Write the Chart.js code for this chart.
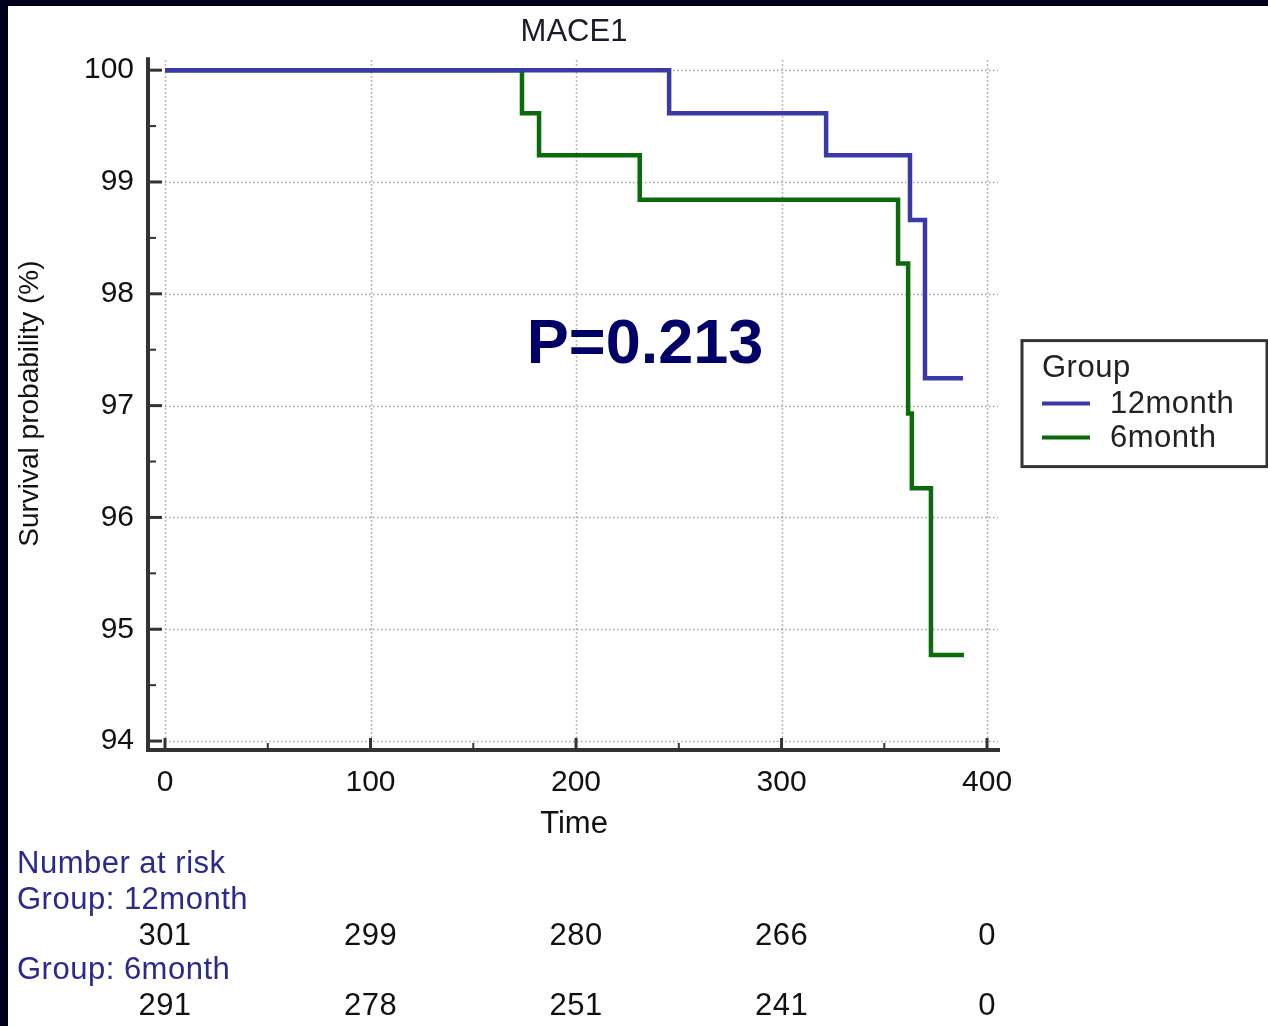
<!DOCTYPE html>
<html>
<head>
<meta charset="utf-8">
<script src="https://cdn.jsdelivr.net/npm/chart.js@4.4.1/dist/chart.umd.min.js"></script>
<style>
  html,body{margin:0;padding:0;background:#fff;}
  #wrap{position:absolute;left:0;top:0;width:1268px;height:1026px;box-sizing:border-box;
        border-top:6px solid #00001e;border-left:8px solid #00001e;background:#fff;}
  canvas{display:block;}
</style>
</head>
<body>
<div id="wrap"><canvas id="km" width="1260" height="1020"></canvas></div>
<script>
// Kaplan-Meier steps (time, survival % after the step)
const times12 = [0, 245.3, 321.7, 362.5, 369.8, 388.3];
const surv12  = [100, 99.615, 99.24, 98.66, 97.245, 97.245];
const times6  = [0, 173.7, 182, 231, 356.7, 361.6, 363.4, 372.7, 388.8];
const surv6   = [100, 99.615, 99.24, 98.84, 98.27, 96.93, 96.26, 94.77, 94.77];

const groups = ['12month', '6month'];
const xTicks = [0, 100, 200, 300, 400];
const xMinor = [50, 150, 250, 350];
const yTicks = [94, 95, 96, 97, 98, 99, 100];
const yMinor = [94.5, 95.5, 96.5, 97.5, 98.5, 99.5];

const riskTimes = [0, 100, 200, 300, 400];
const risk12 = [301, 299, 280, 266, 0];
const risk6  = [291, 278, 251, 241, 0];

const pText = 'P=0.213';
const pAt = {x: 233.6, y: 97.54};

const FONT = '"Liberation Sans", Arial, sans-serif';
const cBlue = '#3a3aa6';
const cGreen = '#0b6b0b';
const cAxis = '#333333';

const pts = (t, s) => t.map((v, i) => ({x: v, y: s[i]}));

const axesPlugin = {
  id: 'axes',
  beforeDatasetsDraw(chart){
    const {ctx, chartArea: a, scales: {x, y}} = chart;
    ctx.save();
    ctx.strokeStyle = '#a0a0a0';
    ctx.lineWidth = 1.5;
    ctx.setLineDash([1.5, 2.5]);
    const x0 = x.getPixelForValue(0), yb = y.getPixelForValue(94);
    yTicks.forEach(v=>{
      const py = Math.round(y.getPixelForValue(v)) + 0.5;
      ctx.beginPath(); ctx.moveTo(x0, py); ctx.lineTo(a.right - 2, py); ctx.stroke();
    });
    xTicks.forEach(v=>{
      const px = Math.round(x.getPixelForValue(v)) + 0.5;
      ctx.beginPath(); ctx.moveTo(px, a.top + 3); ctx.lineTo(px, yb); ctx.stroke();
    });
    ctx.restore();
  },
  afterDraw(chart){
    const {ctx, chartArea: a, scales: {x, y}} = chart;
    ctx.save();
    ctx.strokeStyle = cAxis;
    ctx.lineWidth = 4;
    ctx.beginPath();
    ctx.moveTo(a.left, a.top); ctx.lineTo(a.left, a.bottom); ctx.lineTo(a.right, a.bottom);
    ctx.stroke();
    ctx.lineWidth = 3;
    yTicks.forEach(v=>{ const py = y.getPixelForValue(v);
      ctx.beginPath(); ctx.moveTo(a.left, py); ctx.lineTo(a.left + 14, py); ctx.stroke(); });
    xTicks.forEach(v=>{ const px = x.getPixelForValue(v);
      ctx.beginPath(); ctx.moveTo(px, a.bottom); ctx.lineTo(px, a.bottom - 12); ctx.stroke(); });
    ctx.lineWidth = 2;
    yMinor.forEach(v=>{ const py = y.getPixelForValue(v);
      ctx.beginPath(); ctx.moveTo(a.left, py); ctx.lineTo(a.left + 8, py); ctx.stroke(); });
    xMinor.forEach(v=>{ const px = x.getPixelForValue(v);
      ctx.beginPath(); ctx.moveTo(px, a.bottom); ctx.lineTo(px, a.bottom - 7); ctx.stroke(); });

    // p value
    ctx.fillStyle = '#000066';
    ctx.font = 'bold 63px ' + FONT;
    ctx.textAlign = 'center'; ctx.textBaseline = 'middle';
    ctx.fillText(pText, x.getPixelForValue(pAt.x), y.getPixelForValue(pAt.y));

    // legend box
    const lx = a.right + 22, ly = (a.top + a.bottom) / 2 - 63;
    ctx.lineWidth = 3; ctx.strokeStyle = cAxis;
    ctx.strokeRect(lx, ly, 245, 126);
    ctx.font = '31px ' + FONT; ctx.textAlign = 'left'; ctx.fillStyle = '#222';
    ctx.letterSpacing = '0.5px';
    ctx.fillText('Group', lx + 20, ly + 28);
    chart.data.datasets.forEach((ds, i)=>{
      const yy = ly + 63 + i * 34;
      ctx.strokeStyle = ds.borderColor; ctx.lineWidth = 4;
      ctx.beginPath(); ctx.moveTo(lx + 20, yy); ctx.lineTo(lx + 68, yy); ctx.stroke();
      ctx.fillStyle = '#222';
      ctx.fillText(ds.label, lx + 88, yy + 1);
    });

    // number at risk table
    ctx.font = '31px ' + FONT;
    ctx.fillStyle = '#2a2a8e'; ctx.textAlign = 'left';
    ctx.fillText('Number at risk', 9, 858);
    ctx.fillText('Group: ' + groups[0], 9, 894);
    ctx.fillText('Group: ' + groups[1], 9, 964);
    ctx.fillStyle = '#111'; ctx.textAlign = 'center';
    riskTimes.forEach((t, i)=>{
      const px = x.getPixelForValue(t);
      ctx.fillText(String(risk12[i]), px, 930);
      ctx.fillText(String(risk6[i]), px, 1000);
    });
    ctx.restore();
  }
};

new Chart(document.getElementById('km'), {
  type: 'line',
  data: {
    datasets: [
      {label: groups[0], data: pts(times12, surv12), borderColor: cBlue, borderWidth: 4.5,
       stepped: true, pointRadius: 0, fill: false},
      {label: groups[1], data: pts(times6, surv6), borderColor: cGreen, borderWidth: 4.5,
       stepped: true, pointRadius: 0, fill: false}
    ]
  },
  options: {
    responsive: false,
    animation: false,
    layout: {padding: {left: 0, right: 268, top: 0, bottom: 180}},
    plugins: {
      legend: {display: false},
      tooltip: {enabled: false},
      title: {display: true, text: 'MACE1', fullSize: false, color: '#1a1a2a',
              font: {family: FONT, size: 31, weight: 'normal'}, padding: {top: 8, bottom: 6}}
    },
    scales: {
      x: {
        type: 'linear', min: -8.27, max: 406.3,
        grid: {display: false}, border: {display: false},
        afterBuildTicks: s => { s.ticks = xTicks.map(v => ({value: v})); },
        afterFit: s => { s.height = 96; },
        ticks: {padding: 7, maxRotation: 0, autoSkip: false, color: '#111',
                font: {family: FONT, size: 30}},
        title: {display: true, text: 'Time', color: '#111',
                font: {family: FONT, size: 31}, padding: {top: 0, bottom: 3}}
      },
      y: {
        type: 'linear', min: 93.92, max: 100.116,
        grid: {display: false}, border: {display: false},
        afterBuildTicks: s => { s.ticks = yTicks.map(v => ({value: v})); },
        afterFit: s => { s.width = 140; },
        ticks: {padding: 6, color: '#111', font: {family: FONT, size: 30}},
        title: {display: true, text: 'Survival probability (%)', color: '#111',
                font: {family: FONT, size: 28}, padding: {top: 5, bottom: 0}}
      }
    }
  },
  plugins: [axesPlugin]
});
</script>
</body>
</html>
